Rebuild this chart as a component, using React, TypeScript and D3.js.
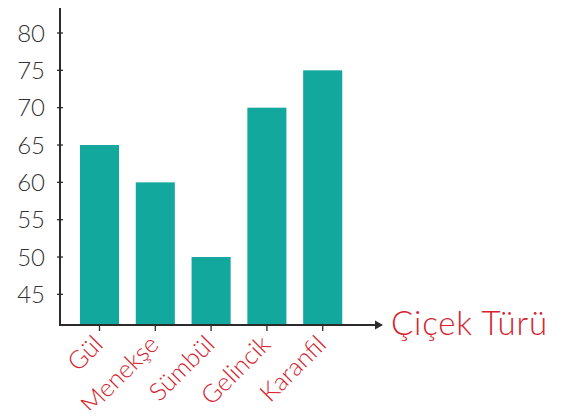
import React from "react";
import * as d3 from "d3";

const categories = ["Gül", "Menekşe", "Sümbül", "Gelincik", "Karanfil"];
const values = [65, 60, 50, 70, 75];
const yTicks = [45, 50, 55, 60, 65, 70, 75, 80];
const xTitle = "Çiçek Türü";

const W = 568;
const H = 418;
const axisX = 60;
const axisY = 325;
const baseValue = 40.8;

export default function App() {
  const y = d3.scaleLinear().domain([40, 80]).range([331.7, 33]);
  const x = d3
    .scaleBand<string>()
    .domain(categories)
    .range([68.8, 353.4])
    .paddingInner(0.3)
    .paddingOuter(0.2);
  const baseY = y(baseValue);
  const font = "Lato, 'Noto Sans', sans-serif";
  const red = "#d6232e";
  const dark = "#2b2b2b";

  return (
    <div style={{ margin: -8 }}>
      <svg width={W} height={H} style={{ display: "block", background: "#fff" }}>
        {categories.map((c, i) => (
          <rect
            key={c}
            x={x(c)}
            y={y(values[i])}
            width={x.bandwidth()}
            height={baseY - y(values[i])}
            fill="#13a89e"
          />
        ))}
        {/* y axis */}
        <line x1={axisX} x2={axisX} y1={axisY + 1} y2={6} stroke={dark} strokeWidth={2} />
        <path d={`M${axisX - 4.5},${8} L${axisX},${0} L${axisX + 4.5},${8} Z`} fill={dark} />
        {yTicks.map((t) => (
          <g key={t}>
            <line x1={axisX - 3} x2={axisX + 3} y1={y(t)} y2={y(t)} stroke={dark} strokeWidth={1.3} />
            <text
              x={45}
              y={y(t)}
              dy="0.36em"
              textAnchor="end"
              fontFamily={font}
              fontWeight={300}
              fontSize={24}
              fill="#333"
            >
              {t}
            </text>
          </g>
        ))}
        {/* x axis */}
        <line x1={axisX - 1} x2={376} y1={axisY} y2={axisY} stroke={dark} strokeWidth={2} />
        <path d={`M${375},${axisY - 4.5} L${383},${axisY} L${375},${axisY + 4.5} Z`} fill={dark} />
        {categories.map((c) => {
          const cx = (x(c) as number) + x.bandwidth() / 2;
          return (
            <g key={c}>
              <line x1={cx} x2={cx} y1={axisY} y2={axisY + 6} stroke={dark} strokeWidth={1.3} />
              <text
                transform={`translate(${cx + 5},${346}) rotate(-45)`}
                textAnchor="end"
                fontFamily={font}
                fontWeight={300}
                fontSize={25}
                fill={red}
              >
                {c}
              </text>
            </g>
          );
        })}
        <text
          x={391}
          y={335}
          fontFamily={font}
          fontWeight={300}
          fontSize={33}
          letterSpacing={0.8}
          fill={red}
        >
          {xTitle}
        </text>
      </svg>
    </div>
  );
}
